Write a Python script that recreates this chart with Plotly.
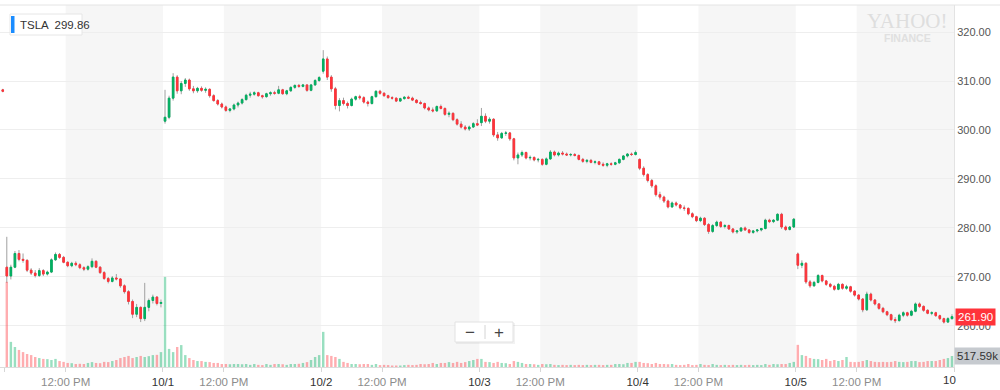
import plotly.graph_objects as go

# ---------------- data (10-minute candles) ----------------
day_labels = ["9/28", "10/1", "10/2", "10/3", "10/4", "10/5"]
next_day_label = "10"
noon_label = "12:00 PM"
minutes_per_day = 390
bar_minutes = 10
noon_offset = 150

# last candle of 9/27
prev_o = [308.2]
prev_h = [308.4]
prev_l = [307.7]
prev_c = [307.9]

o_0928 = [272.0,270.2,272.0,274.8,273.6,273.4,271.4,270.8,270.3,271.3,270.6,271.0,273.5,274.6,274.0,273.0,272.3,272.8,272.5,271.9,271.6,272.1,273.2,272.0,270.9,269.7,269.1,269.8,269.6,268.2,267.0,265.0,262.4,263.8,261.5,263.8,265.2,265.9,264.6]
h_0928 = [278.2,272.5,275.3,275.5,274.8,273.6,271.8,271.4,271.8,271.6,271.3,273.8,275.0,274.9,274.3,273.2,273.1,273.2,272.8,272.2,272.4,273.8,273.4,272.2,271.2,270.0,270.2,270.6,269.8,268.5,267.3,265.4,264.5,264.0,268.8,265.6,266.4,266.1,265.4]
l_0928 = [268.8,269.5,271.8,273.2,272.9,271.0,270.4,269.9,270.0,270.2,270.3,270.8,273.3,273.7,272.8,272.0,272.0,272.2,271.6,271.2,271.3,271.8,271.8,270.6,269.4,268.7,268.9,269.3,267.8,266.6,264.4,261.6,261.8,260.8,261.0,263.0,264.6,264.2,263.8]
c_0928 = [270.2,272.0,274.8,273.6,273.4,271.4,270.8,270.3,271.3,270.6,271.0,273.5,274.6,274.0,273.0,272.3,272.8,272.5,271.9,271.6,272.1,273.2,272.0,270.9,269.7,269.1,269.8,269.6,268.2,267.0,265.0,262.4,263.8,261.5,263.8,265.2,265.9,264.6,264.8]
v_0928 = [4000,1180,940,800,700,610,560,470,420,380,370,330,380,280,240,190,180,140,150,140,190,230,190,180,240,230,280,330,420,470,520,420,470,520,470,510,560,570,700]

o_1001 = [301.8,302.6,306.5,310.8,308.0,309.5,310.2,308.4,308.0,308.5,308.1,308.3,307.0,306.0,305.3,304.7,304.0,304.3,305.1,305.5,306.2,307.1,307.3,307.6,307.0,306.8,307.4,307.6,307.5,308.2,307.4,308.0,308.7,309.1,308.9,309.2,308.1,309.2,310.1]
h_1001 = [308.2,307.0,311.6,311.2,310.0,310.6,310.5,309.0,308.8,308.9,308.7,308.5,307.3,306.3,305.6,305.0,304.5,305.4,305.8,306.5,307.4,307.8,307.9,307.8,307.2,307.6,307.9,308.0,309.0,308.4,308.2,308.9,309.3,309.4,309.4,309.3,309.4,310.4,311.0]
l_1001 = [301.3,302.2,306.0,307.4,307.3,308.8,308.0,307.5,307.6,307.8,307.6,306.6,305.8,305.0,304.4,303.7,303.6,304.0,304.6,305.2,306.0,306.6,307.0,306.8,306.4,306.6,307.0,307.2,307.3,307.2,307.1,307.8,308.4,308.6,308.7,307.8,307.9,309.0,309.8]
c_1001 = [302.6,306.5,310.8,308.0,309.5,310.2,308.4,308.0,308.5,308.1,308.3,307.0,306.0,305.3,304.7,304.0,304.3,305.1,305.5,306.2,307.1,307.3,307.6,307.0,306.8,307.4,307.6,307.5,308.2,307.4,308.0,308.7,309.1,308.9,309.2,308.1,309.2,310.1,310.7]
v_1001 = [4230,850,700,940,1030,560,420,330,280,280,240,230,190,190,140,140,130,140,140,130,140,100,140,100,90,140,100,140,140,130,100,140,140,150,190,230,330,470,560]

o_1002 = [312.0,314.5,310.8,308.4,305.0,306.0,305.4,305.0,306.3,306.8,306.6,305.7,305.4,306.8,307.9,307.5,307.0,306.6,306.5,305.9,306.4,306.7,306.5,306.1,305.6,305.4,304.5,304.1,303.9,304.8,304.4,303.2,303.4,302.1,301.2,300.6,300.2,300.6,301.3]
h_1002 = [316.3,315.0,311.2,308.8,306.5,306.6,305.8,306.6,307.0,307.2,306.9,306.0,307.0,308.1,308.2,307.7,307.2,306.9,306.6,306.6,306.9,307.0,306.8,306.3,306.0,305.6,304.8,304.6,305.0,305.2,304.6,303.8,303.6,302.4,301.8,301.0,300.9,301.6,302.2]
l_1002 = [311.5,310.2,307.8,304.2,303.8,305.0,304.4,304.8,306.0,306.2,305.4,304.8,305.2,306.6,307.2,306.8,306.4,306.2,305.7,305.8,306.2,306.3,305.9,305.4,305.2,304.2,303.8,303.6,303.7,304.2,302.9,302.6,301.8,300.9,300.3,299.9,299.8,300.4,300.8]
c_1002 = [314.5,310.8,308.4,305.0,306.0,305.4,305.0,306.3,306.8,306.6,305.7,305.4,306.8,307.9,307.5,307.0,306.6,306.5,305.9,306.4,306.7,306.5,306.1,305.6,305.4,304.5,304.1,303.9,304.8,304.4,303.2,303.4,302.1,301.2,300.6,300.2,300.6,301.3,301.0]
v_1002 = [1650,560,520,470,380,240,190,140,140,130,140,140,100,140,90,100,90,70,70,70,90,100,90,100,140,130,140,190,140,190,190,230,190,240,190,230,280,330,380]

o_1003 = [301.5,302.8,301.8,302.2,299.0,298.4,299.3,299.4,298.2,294.3,294.9,295.4,294.3,294.4,293.9,294.0,293.0,294.1,295.5,294.9,295.3,295.1,294.9,295.0,294.8,294.0,293.6,293.8,293.4,293.5,293.0,292.8,293.1,293.0,293.3,294.0,294.7,295.1,295.0]
h_1003 = [304.5,303.4,302.6,302.4,299.6,299.6,299.8,299.6,298.4,295.4,295.8,295.6,294.8,294.6,294.3,294.2,294.4,295.9,295.8,295.6,295.7,295.4,295.3,295.3,295.0,294.3,294.0,294.1,293.8,293.7,293.4,293.3,293.4,293.5,294.2,294.9,295.3,295.4,295.8]
l_1003 = [300.8,301.4,301.3,298.6,297.8,298.2,298.8,297.8,293.8,293.0,294.5,294.0,293.8,293.6,293.4,292.7,292.8,293.9,294.6,294.6,294.8,294.7,294.6,294.6,293.8,293.3,293.2,293.2,293.0,292.8,292.5,292.4,292.7,292.8,293.1,293.8,294.4,294.7,294.8]
c_1003 = [302.8,301.8,302.2,299.0,298.4,299.3,299.4,298.2,294.3,294.9,295.4,294.3,294.4,293.9,294.0,293.0,294.1,295.5,294.9,295.3,295.1,294.9,295.0,294.8,294.0,293.6,293.8,293.4,293.5,293.0,292.8,293.1,293.0,293.3,294.0,294.7,295.1,295.0,295.4]
v_1003 = [380,240,230,190,240,190,180,140,280,240,190,140,140,130,100,140,130,140,100,90,100,90,100,90,100,90,100,90,100,100,90,100,100,140,140,130,190,190,240]

o_1004 = [294.0,292.2,290.9,289.7,288.6,286.8,286.3,285.5,284.3,285.1,284.7,284.1,284.0,282.9,282.3,281.5,282.0,280.7,279.3,280.5,281.2,280.3,280.5,279.8,279.2,279.4,280.0,279.6,279.1,279.4,279.6,279.9,281.6,281.3,281.6,282.8,280.2,279.7,280.2]
h_1004 = [294.2,292.6,291.2,290.0,288.9,287.4,286.6,285.8,285.4,285.4,284.9,284.6,284.2,283.2,282.5,282.3,282.2,281.0,280.8,281.5,281.4,280.8,280.7,280.0,279.6,280.2,280.3,279.8,279.6,279.8,280.0,281.9,281.9,281.8,283.0,283.1,280.5,280.4,282.0]
l_1004 = [291.8,290.5,289.3,288.2,286.4,285.8,285.1,284.0,284.1,284.4,283.8,283.5,282.6,282.0,281.2,281.2,280.4,278.8,279.0,280.2,280.0,279.9,279.6,278.9,278.8,279.2,279.4,278.8,278.8,279.1,279.3,279.7,281.0,281.0,281.4,279.8,279.4,279.5,280.0]
c_1004 = [292.2,290.9,289.7,288.6,286.8,286.3,285.5,284.3,285.1,284.7,284.1,284.0,282.9,282.3,281.5,282.0,280.7,279.3,280.5,281.2,280.3,280.5,279.8,279.2,279.4,280.0,279.6,279.1,279.4,279.6,279.9,281.6,281.3,281.6,282.8,280.2,279.7,280.2,281.8]
v_1004 = [240,190,180,140,190,140,140,130,140,100,90,100,140,90,100,140,100,90,140,100,90,100,90,100,90,100,90,100,90,100,90,140,100,140,130,140,140,190,240]

o_1005 = [274.7,272.4,272.8,269.0,268.2,268.9,270.3,269.2,268.5,268.1,267.5,268.5,267.7,268.0,267.1,266.3,265.5,263.3,266.5,265.3,264.5,263.6,262.9,262.3,261.3,261.1,262.2,262.7,262.2,263.0,264.5,264.0,263.2,262.6,262.7,262.1,261.5,260.8,261.5]
h_1005 = [275.0,273.4,273.0,269.4,269.2,270.6,270.5,269.4,268.8,268.4,268.8,268.7,268.4,268.2,267.3,266.5,265.7,267.0,266.8,265.5,264.7,263.9,263.1,262.5,261.8,262.5,263.0,262.9,263.3,264.8,264.8,264.2,263.4,263.0,262.9,262.3,261.7,261.8,262.4]
l_1005 = [271.6,271.8,268.6,267.8,268.0,268.7,268.9,268.2,267.8,267.2,267.3,267.4,267.4,266.8,266.0,265.2,262.8,263.1,265.0,264.2,263.3,262.6,262.0,261.0,260.6,260.9,261.8,261.9,262.0,262.8,263.7,262.9,262.4,262.2,261.9,261.2,260.5,260.6,261.3]
c_1005 = [272.4,272.8,269.0,268.2,268.9,270.3,269.2,268.5,268.1,267.5,268.5,267.7,268.0,267.1,266.3,265.5,263.3,266.5,265.3,264.5,263.6,262.9,262.3,261.3,261.1,262.2,262.7,262.2,263.0,264.5,264.0,263.2,262.6,262.7,262.1,261.5,260.8,261.5,261.9]
v_1005 = [1040,560,520,420,380,370,330,380,280,330,280,330,470,240,230,240,280,330,280,240,230,240,230,240,280,240,230,240,280,280,230,240,280,280,280,330,380,420,517.59]

legend_symbol = "TSLA"
legend_value = "299.86"

# ---------------- assemble ----------------
days = [
    (o_0928, h_0928, l_0928, c_0928, v_0928),
    (o_1001, h_1001, l_1001, c_1001, v_1001),
    (o_1002, h_1002, l_1002, c_1002, v_1002),
    (o_1003, h_1003, l_1003, c_1003, v_1003),
    (o_1004, h_1004, l_1004, c_1004, v_1004),
    (o_1005, h_1005, l_1005, c_1005, v_1005),
]
X, O, H, L, C, V = [], [], [], [], [], []
for d, (o, h, l, c, v) in enumerate(days):
    assert len(o) == len(h) == len(l) == len(c) == len(v), d
    for i in range(len(o)):
        X.append(d * minutes_per_day + bar_minutes / 2 + bar_minutes * i)
        O.append(o[i]); H.append(h[i]); L.append(l[i]); C.append(c[i]); V.append(v[i])

xp = [-bar_minutes / 2] + X
op = prev_o + O
hp = prev_h + H
lp = prev_l + L
cp = prev_c + C

UP = "#00b061"
DN = "#ff333a"
vol_colors = ["rgba(0,176,97,0.40)" if c >= o else "rgba(255,51,58,0.40)" for o, c in zip(O, C)]

fig = go.Figure()
fig.add_trace(go.Bar(x=X, y=V, yaxis="y2", width=6, marker=dict(color=vol_colors, line=dict(width=0)),
                     hoverinfo="skip", showlegend=False))
# wicks (grey)
fig.add_trace(go.Candlestick(
    x=xp, open=op, high=hp, low=lp, close=cp,
    increasing=dict(line=dict(color="#a0a0a0", width=1), fillcolor="#a0a0a0"),
    decreasing=dict(line=dict(color="#a0a0a0", width=1), fillcolor="#a0a0a0"),
    showlegend=False, hoverinfo="skip"))
# bodies (coloured)
fig.add_trace(go.Candlestick(
    x=xp, open=op, close=cp,
    high=[max(a, b) for a, b in zip(op, cp)], low=[min(a, b) for a, b in zip(op, cp)],
    increasing=dict(line=dict(color=UP, width=1), fillcolor=UP),
    decreasing=dict(line=dict(color=DN, width=1), fillcolor=DN),
    showlegend=False))

# ---------------- geometry ----------------
W, Hh = 1000, 390
ml, mr, mt, mb = 0, 46, 5, 23
pw, ph = W - ml - mr, Hh - mt - mb
def pxx(x):
    return (x - ml) / pw
def pyy(y):
    return 1 - (y - mt) / ph

ndays = len(day_labels)
tickvals, ticktext = [], []
for d in range(ndays):
    tickvals.append(d * minutes_per_day)
    ticktext.append("<span style='color:#333'>%s</span>" % day_labels[d])
    tickvals.append(d * minutes_per_day + noon_offset)
    ticktext.append(noon_label)
tickvals.append(ndays * minutes_per_day)
ticktext.append("")

shapes = []
for d in range(ndays):
    shapes.append(dict(type="rect", xref="x", yref="paper", x0=d * minutes_per_day + noon_offset,
                       x1=(d + 1) * minutes_per_day, y0=0, y1=1, fillcolor="#f6f6f6",
                       line=dict(width=0), layer="below"))
# top border across the whole width
shapes.append(dict(type="line", xref="paper", yref="paper", x0=0, x1=W / pw, y0=1, y1=1,
                   line=dict(color="#e4e4e4", width=1)))
# legend chip
shapes.append(dict(type="rect", xref="paper", yref="paper", x0=pxx(10), x1=pxx(82), y0=pyy(35), y1=pyy(14),
                   fillcolor="white", line=dict(color="#e6e6e6", width=1)))
shapes.append(dict(type="rect", xref="paper", yref="paper", x0=pxx(11), x1=pxx(14.5), y0=pyy(33), y1=pyy(16),
                   fillcolor="#1a8cff", line=dict(width=0)))
# zoom control
shapes.append(dict(type="rect", xref="paper", yref="paper", x0=pxx(456), x1=pxx(515), y0=pyy(344), y1=pyy(323),
                   fillcolor="rgba(0,0,0,0.05)", line=dict(width=0)))
shapes.append(dict(type="rect", xref="paper", yref="paper", x0=pxx(455), x1=pxx(513), y0=pyy(342), y1=pyy(322),
                   fillcolor="white", line=dict(color="#e2e2e2", width=1)))
shapes.append(dict(type="line", xref="paper", yref="paper", x0=pxx(485), x1=pxx(485), y0=pyy(339), y1=pyy(325),
                   line=dict(color="#d4d4d4", width=1)))

FONT = "Liberation Sans, Arial, sans-serif"
def ann(x, y, text, size, color, family=FONT, xa="center", ya="middle"):
    return dict(xref="paper", yref="paper", x=pxx(x), y=pyy(y), xanchor=xa, yanchor=ya, text=text,
                showarrow=False, font=dict(size=size, color=color, family=family))

annotations = [
    ann(18, 24.5, "%s  %s" % (legend_symbol, legend_value), 11.5, "#333", xa="left"),
    ann(470, 332, "−", 17, "#444"),
    ann(499, 332, "+", 17, "#444"),
    ann(907, 21, "YAHOO!", 21, "#dedede", family="Liberation Serif, serif"),
    ann(907, 38, "<b>FINANCE</b>", 10.5, "#e0e0e0"),
    ann(941, 380, next_day_label, 11.5, "#333", xa="left"),
    dict(xref="paper", yref="y", x=1, y=C[-1], xanchor="left", yanchor="middle", xshift=1,
         text="%.2f" % C[-1], showarrow=False, bgcolor=DN, borderpad=2,
         font=dict(size=11.5, color="white", family=FONT)),
    dict(xref="paper", yref="y2", x=1, y=V[-1], xanchor="left", yanchor="middle", xshift=0,
         text="%.2fk" % V[-1], showarrow=False, bgcolor="#c6cacf", borderpad=2,
         font=dict(size=11.5, color="#333", family=FONT)),
]

fig.update_layout(
    width=W, height=Hh, autosize=False,
    margin=dict(l=ml, r=mr, t=mt, b=mb, pad=0),
    paper_bgcolor="white", plot_bgcolor="white",
    font=dict(family=FONT),
    boxgap=0.45,
    showlegend=False,
    shapes=shapes,
    annotations=annotations,
    xaxis=dict(range=[-11.8, ndays * minutes_per_day], tickmode="array", tickvals=tickvals, ticktext=ticktext,
               showgrid=False, zeroline=False, showline=True, linecolor="#dcdcdc", linewidth=1,
               ticks="outside", ticklen=4, tickcolor="#d6d6d6",
               tickfont=dict(size=11.5, color="#8c8c8c", family=FONT),
               rangeslider=dict(visible=False), fixedrange=True),
    yaxis=dict(side="right", range=[251.63, 325.51], dtick=10, tick0=0, tickformat=".2f",
               showgrid=True, gridcolor="#eeeeee", zeroline=False, showline=True, linecolor="#e3e3e3",
               ticks="", tickfont=dict(size=11, color="#555", family=FONT), fixedrange=True),
    yaxis2=dict(overlaying="y", range=[0, 17000], visible=False, fixedrange=True),
)

fig.write_html("out.html", config={"displayModeBar": False})
